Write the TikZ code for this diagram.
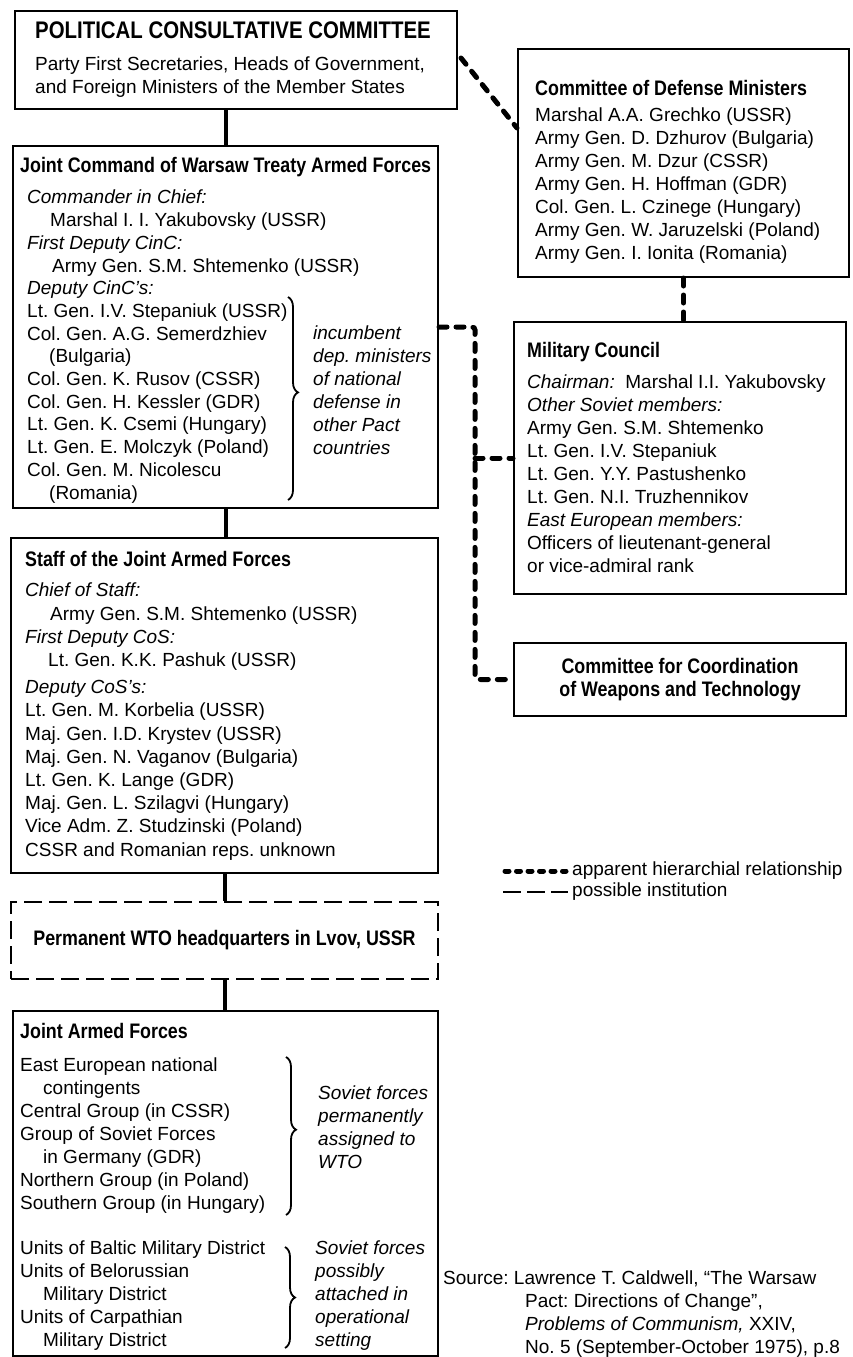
\documentclass[tikz,border=0pt]{standalone}
\usepackage{fontspec}
\setmainfont{Liberation Sans}
\newfontfamily\headfont{Liberation Sans}[FakeStretch=0.85]
\usetikzlibrary{decorations.pathreplacing}
\frenchspacing

\begin{document}
\begin{tikzpicture}[x=1pt,y=-1pt,
  box/.style={draw,line width=2pt,inner sep=0pt,anchor=north west},
  dbox/.style={box,dash pattern=on 18pt off 7pt},
  head/.style={anchor=base west,inner sep=0pt,font=\headfont\bfseries\fontsize{21}{23}\selectfont},
  txt/.style={anchor=north west,inner sep=0pt,align=left,font=\fontsize{19}{23}\selectfont,
              execute at begin node={\rule{0pt}{14pt}}},
  ann/.style={txt,font=\itshape\fontsize{19}{23}\selectfont},
  key/.style={anchor=west,inner sep=0pt,font=\fontsize{19}{23}\selectfont},
  tie/.style={line width=4pt},
  hier/.style={line width=5pt,dash pattern=on 8pt off 9pt,line cap=round},
  hierkey/.style={line width=5pt,dash pattern=on 4pt off 7.5pt,line cap=round},
  maybe/.style={line width=2.5pt,dash pattern=on 18pt off 6pt},
  curly/.style={decorate,decoration={brace,amplitude=10pt,aspect=#1},line width=1.8pt},
]
\fill[white] (0,0) rectangle (852,1357);
\useasboundingbox (0,0) rectangle (852,1357);

% ---------- left column ----------
\node[box,minimum width=442pt,minimum height=98pt] (pcc) at (14,10) {};
\node[head,font=\headfont\bfseries\fontsize{24}{26}\selectfont] (pcct) at (35,38.6) {POLITICAL CONSULTATIVE COMMITTEE};
\node[txt] (pccb) at (35,56.8) {Party First Secretaries, Heads of Government,\\
  and Foreign Ministers of the Member States};

\node[box,minimum width=425pt,minimum height=362pt] (jc) at (12,145) {};
\node[head] (jct) at (20,172.5) {Joint Command of Warsaw Treaty Armed Forces};
\node[txt,font=\fontsize{19}{22.7}\selectfont] (jcb) at (27,190) {\textit{Commander in Chief:}\\
  \hspace*{23pt}Marshal I. I. Yakubovsky (USSR)\\
  \textit{First Deputy CinC:}\\
  \hspace*{25pt}Army Gen. S.M. Shtemenko (USSR)\\
  \textit{Deputy CinC’s:}\\
  Lt. Gen. I.V. Stepaniuk (USSR)\\
  Col. Gen. A.G. Semerdzhiev\\
  \hspace*{22pt}(Bulgaria)\\
  Col. Gen. K. Rusov (CSSR)\\
  Col. Gen. H. Kessler (GDR)\\
  Lt. Gen. K. Csemi (Hungary)\\
  Lt. Gen. E. Molczyk (Poland)\\
  Col. Gen. M. Nicolescu\\
  \hspace*{22pt}(Romania)};
\draw[curly=0.47] (288,297) -- (288,500);
\node[ann] (jca) at (313,326) {incumbent\\dep. ministers\\of national\\defense in\\other Pact\\countries};

\node[box,minimum width=427pt,minimum height=335pt] (staff) at (10,537) {};
\node[head] (stafft) at (25,566.5) {Staff of the Joint Armed Forces};
\node[txt,font=\fontsize{19}{23.2}\selectfont] (staffb) at (25,583) {\textit{Chief of Staff:}\\
  \hspace*{25pt}Army Gen. S.M. Shtemenko (USSR)\\
  \textit{First Deputy CoS:}\\
  \hspace*{23pt}Lt. Gen. K.K. Pashuk (USSR)\\[4pt]
  \textit{Deputy CoS’s:}\\
  Lt. Gen. M. Korbelia (USSR)\\
  Maj. Gen. I.D. Krystev (USSR)\\
  Maj. Gen. N. Vaganov (Bulgaria)\\
  Lt. Gen. K. Lange (GDR)\\
  Maj. Gen. L. Szilagvi (Hungary)\\
  Vice Adm. Z. Studzinski (Poland)\\
  CSSR and Romanian reps. unknown};

\node[dbox,minimum width=427pt,minimum height=77pt] (lvov) at (10,901) {};
\node[head,anchor=center] (lvovt) at (lvov.center) {Permanent WTO headquarters in Lvov, USSR};

\node[box,minimum width=425pt,minimum height=345pt] (jaf) at (12,1010) {};
\node[head] (jaft) at (20,1038.5) {Joint Armed Forces};
\node[txt] (jafb1) at (20,1058) {East European national\\
  \hspace*{23pt}contingents\\
  Central Group (in CSSR)\\
  Group of Soviet Forces\\
  \hspace*{23pt}in Germany (GDR)\\
  Northern Group (in Poland)\\
  Southern Group (in Hungary)};
\draw[curly=0.46] (286,1057) -- (286,1215);
\node[ann] (jafa1) at (318,1086) {Soviet forces\\permanently\\assigned to\\WTO};
\node[txt] (jafb2) at (20,1241) {Units of Baltic Military District\\
  Units of Belorussian\\
  \hspace*{23pt}Military District\\
  Units of Carpathian\\
  \hspace*{23pt}Military District};
\draw[curly=0.5] (285,1247) -- (285,1348);
\node[ann] (jafa2) at (315,1241) {Soviet forces\\possibly\\attached in\\operational\\setting};

% ---------- right column ----------
\node[box,minimum width=331pt,minimum height=228pt] (cdm) at (517,48) {};
\node[head] (cdmt) at (535,95.5) {Committee of Defense Ministers};
\node[txt] (cdmb) at (535,108) {Marshal A.A. Grechko (USSR)\\
  Army Gen. D. Dzhurov (Bulgaria)\\
  Army Gen. M. Dzur (CSSR)\\
  Army Gen. H. Hoffman (GDR)\\
  Col. Gen. L. Czinege (Hungary)\\
  Army Gen. W. Jaruzelski (Poland)\\
  Army Gen. I. Ionita (Romania)};

\node[box,minimum width=332pt,minimum height=272pt] (mc) at (513,321) {};
\node[head] (mct) at (527,357.5) {Military Council};
\node[txt] (mcb) at (527,375) {\textit{Chairman:}\ \ Marshal I.I. Yakubovsky\\
  \textit{Other Soviet members:}\\
  Army Gen. S.M. Shtemenko\\
  Lt. Gen. I.V. Stepaniuk\\
  Lt. Gen. Y.Y. Pastushenko\\
  Lt. Gen. N.I. Truzhennikov\\
  \textit{East European members:}\\
  Officers of lieutenant-general\\
  or vice-admiral rank};

\node[box,minimum width=332pt,minimum height=73pt] (ccwt) at (513,642) {};
\node[head,anchor=center,align=center] (ccwtt) at (ccwt.center) {Committee for Coordination\\of Weapons and Technology};

% ---------- connectors ----------
\draw[tie] (pcc.south -| jc.north) -- (jc.north);
\draw[tie] (jc.south) -- (staff.north -| jc.south);
\draw[tie] (staff.south) -- (lvov.north);
\draw[tie] (lvov.south) -- (jaf.north -| lvov.south);

\draw[hier] ([xshift=3pt,yshift=-48pt]pcc.north east) -- ([yshift=-80pt]cdm.north west);
\draw[hier] (cdm.south) -- (cdm.south |- mc.north);
\coordinate (bus) at (475,0);
\draw[hier,rounded corners=3pt] (jc.east) -- (jc.east -| bus) -- (bus |- ccwt.west) -- (ccwt.west);
\draw[hier] (bus |- mc.west) -- (mc.west);

% ---------- key ----------
\coordinate (k1a) at (505,871);
\coordinate (k1b) at (566,871);
\draw[hierkey] (k1a) -- (k1b);
\node[key] (k1) at (572,871) {apparent hierarchial relationship};
\coordinate (k2a) at (503,892);
\coordinate (k2b) at (568,892);
\draw[maybe] (k2a) -- (k2b);
\node[key] (k2) at (572,892) {possible institution};

% ---------- source ----------
\node[txt] (src) at (443,1271) {Source: Lawrence T. Caldwell, “The Warsaw\\
  \hspace*{82pt}Pact: Directions of Change”,\\
  \hspace*{82pt}\textit{Problems of Communism,} XXIV,\\
  \hspace*{82pt}No. 5 (September-October 1975), p.8};
\end{tikzpicture}
\end{document}
